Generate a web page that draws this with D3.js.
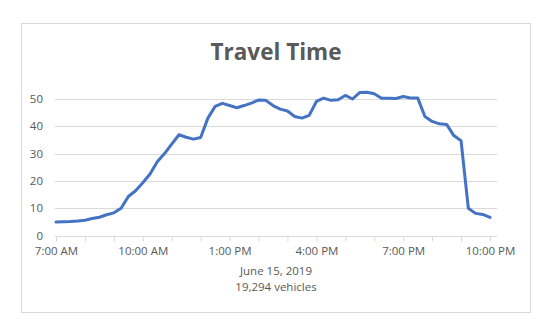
<!DOCTYPE html>
<html>
<head>
<meta charset="utf-8">
<script src="https://cdn.jsdelivr.net/npm/d3@7"></script>
<style>
  body { margin: 0; background: #fff; }
  text { font-family: "Open Sans", sans-serif; fill: #595959; }
</style>
</head>
<body>
<svg id="chart"></svg>
<script>
// Sample times (15 minute steps) and travel time values
var times = [
  "7:00","7:15","7:30","7:45","8:00","8:15","8:30","8:45",
  "9:00","9:15","9:30","9:45","10:00","10:15","10:30","10:45",
  "11:00","11:15","11:30","11:45","12:00","12:15","12:30","12:45",
  "13:00","13:15","13:30","13:45","14:00","14:15","14:30","14:45",
  "15:00","15:15","15:30","15:45","16:00","16:15","16:30","16:45",
  "17:00","17:15","17:30","17:45","18:00","18:15","18:30","18:45",
  "19:00","19:15","19:30","19:45","20:00","20:15","20:30","20:45",
  "21:00","21:15","21:30","21:45","22:00"
];
var travelTime = [
  4.9, 5.0, 5.1, 5.3, 5.6, 6.2, 6.7, 7.6,
  8.3, 10.0, 14.3, 16.4, 19.3, 22.5, 27.0, 30.0,
  33.5, 36.9, 36.0, 35.3, 35.9, 43.0, 47.3, 48.4,
  47.6, 46.8, 47.6, 48.5, 49.6, 49.5, 47.6, 46.3,
  45.6, 43.6, 43.0, 44.0, 49.1, 50.3, 49.5, 49.7,
  51.3, 50.0, 52.4, 52.5, 51.9, 50.3, 50.3, 50.2,
  50.9, 50.4, 50.4, 43.6, 41.8, 40.9, 40.7, 36.6,
  34.7, 10.0, 8.1, 7.7, 6.6
];
var yTicks = [0, 10, 20, 30, 40, 50];
var xLabels = ["7:00", "10:00", "13:00", "16:00", "19:00", "22:00"];
var title = "Travel Time";
var subtitle = ["June 15, 2019", "19,294 vehicles"];

var width = 550,
    height = 334;

var parseTime = d3.timeParse("%H:%M");
var data = times.map(function(t, i) {
  return { time: parseTime(t), value: travelTime[i] };
});

var svg = d3.select("#chart")
  .attr("width", width)
  .attr("height", height);

// Chart border
svg.append("rect")
  .attr("x", 21.5)
  .attr("y", 23.5)
  .attr("width", 509)
  .attr("height", 289)
  .attr("fill", "#fff")
  .attr("stroke", "#d9d9d9");

var x = d3.scaleTime()
  .domain([parseTime("7:00"), parseTime("22:00")])
  .range([56, 490]);

var y = d3.scaleLinear()
  .domain([0, 50])
  .range([235.5, 99]);

// Gridlines
svg.append("g")
  .selectAll("line")
  .data(yTicks.filter(function(d) { return d > 0; }))
  .enter().append("line")
    .attr("x1", 55)
    .attr("x2", 497)
    .attr("y1", function(d) { return Math.round(y(d)) + 0.5; })
    .attr("y2", function(d) { return Math.round(y(d)) + 0.5; })
    .attr("stroke", "#d9d9d9")
    .attr("stroke-width", 1);

// Y axis labels
svg.append("g")
  .selectAll("text")
  .data(yTicks)
  .enter().append("text")
    .attr("x", 43)
    .attr("y", function(d) { return y(d); })
    .attr("dy", "0.35em")
    .style("text-anchor", "end")
    .style("font-size", "11.5px")
    .text(function(d) { return d; });

// X axis: tick every hour, label every third hour
var labelled = xLabels.map(function(t) { return parseTime(t).getTime(); });
var xAxis = d3.axisBottom(x)
  .ticks(d3.timeHour.every(1))
  .tickSize(5)
  .tickFormat(function(d) {
    return labelled.indexOf(d.getTime()) >= 0 ? d3.timeFormat("%-I:%M %p")(d) : "";
  });

var gx = svg.append("g")
  .attr("transform", "translate(0," + (Math.round(y(0)) + 0.5) + ")")
  .call(xAxis);

gx.select(".domain")
  .attr("d", "M55,0H497")
  .attr("stroke", "#d9d9d9");
gx.selectAll(".tick line").attr("stroke", "#d9d9d9");
gx.selectAll(".tick text")
  .attr("fill", "#595959")
  .attr("y", 7)
  .attr("dy", "1em")
  .style("font-family", "\"Open Sans\", sans-serif")
  .style("font-size", "11.5px");

// Travel time line
var line = d3.line()
  .x(function(d) { return x(d.time); })
  .y(function(d) { return y(d.value); });

svg.append("path")
  .datum(data)
  .attr("d", line)
  .attr("fill", "none")
  .attr("stroke", "#4472c4")
  .attr("stroke-width", 3)
  .attr("stroke-linejoin", "round")
  .attr("stroke-linecap", "round");

// Title
svg.append("text")
  .attr("x", 276)
  .attr("y", 60)
  .style("text-anchor", "middle")
  .style("font-size", "22.5px")
  .style("font-weight", "bold")
  .text(title);

// Axis caption
svg.selectAll(".caption")
  .data(subtitle)
  .enter().append("text")
    .attr("class", "caption")
    .attr("x", 276)
    .attr("y", function(d, i) { return 274.5 + i * 16; })
    .style("text-anchor", "middle")
    .style("font-size", "11.5px")
    .text(function(d) { return d; });
</script>
</body>
</html>
